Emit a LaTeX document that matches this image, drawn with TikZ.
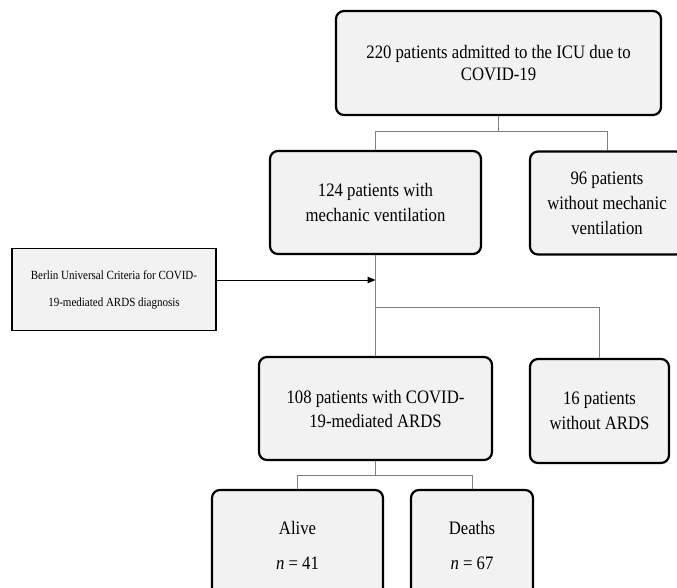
\documentclass[tikz,border=0pt]{standalone}
\usepackage{fontspec}
\setmainfont{Liberation Serif}[FakeStretch=0.88]
\usetikzlibrary{arrows.meta}
\definecolor{boxfill}{HTML}{F2F2F2}
\definecolor{linegray}{HTML}{808080}
\begin{document}
\begin{tikzpicture}[x=1pt,y=-1pt,
  rbox/.style={draw=black, line width=2.2pt, rounded corners=8pt, fill=boxfill, inner sep=0pt, align=center, font=\fontsize{19}{25}\selectfont},
  sbox/.style={draw=black, line width=1.6pt, fill=boxfill, inner sep=0pt, align=center, font=\fontsize{12.5}{27}\selectfont},
  conn/.style={draw=linegray, line width=1pt},
  arrowline/.style={draw=black, line width=1pt, -{Triangle[length=8pt,width=6.5pt]}}]
\clip (0,0) rectangle (677,588);
\fill[white] (0,0) rectangle (677,588);

\node[rbox, minimum width=325pt, minimum height=104pt, font=\fontsize{19}{21.5}\selectfont] (top) at (498.5,63) {220 patients admitted to the ICU due to\\COVID-19};
\node[rbox, minimum width=211pt, minimum height=103pt] (mv) at (375.5,202.5) {124 patients with\\mechanic ventilation};
\node[rbox, minimum width=154pt, minimum height=103pt] (nomv) at (607,203) {96 patients\\without mechanic\\ventilation};
\node[sbox, minimum width=204pt, minimum height=82pt] (berlin) at (114,289.5) {Berlin Universal Criteria for COVID-\\19-mediated ARDS diagnosis};
\node[rbox, minimum width=233pt, minimum height=103pt, font=\fontsize{19}{24}\selectfont] (ards) at (375.5,408.5) {108 patients with COVID-\\19-mediated ARDS};
\node[rbox, minimum width=139pt, minimum height=104pt] (noards) at (599.5,411) {16 patients\\without ARDS};
\node[rbox, minimum width=171pt, minimum height=110pt, font=\fontsize{19}{35}\selectfont] (alive) at (297.5,545) {Alive\\\textit{n} = 41};
\node[rbox, minimum width=122pt, minimum height=110pt, font=\fontsize{19}{35}\selectfont] (deaths) at (472,545) {Deaths\\\textit{n} = 67};

\coordinate (j1) at (499,132);
\coordinate (j2) at (375.5,307);
\coordinate (j3) at (375.5,475);
\coordinate (arr) at (375.5,280);

\draw[conn] (top.south) -- (top.south |- j1);
\draw[conn] (mv.north) -- (mv.north |- j1) -- (nomv.north |- j1) -- (nomv.north);
\draw[conn] (mv.south) -- (ards.north);
\draw[conn] (j2) -- (noards.north |- j2) -- (noards.north);
\draw[conn] (ards.south) -- (j3);
\draw[conn] (alive.north) -- (alive.north |- j3) -- (deaths.north |- j3) -- (deaths.north);
\draw[arrowline] (berlin.east |- arr) -- (arr);
\end{tikzpicture}
\end{document}
